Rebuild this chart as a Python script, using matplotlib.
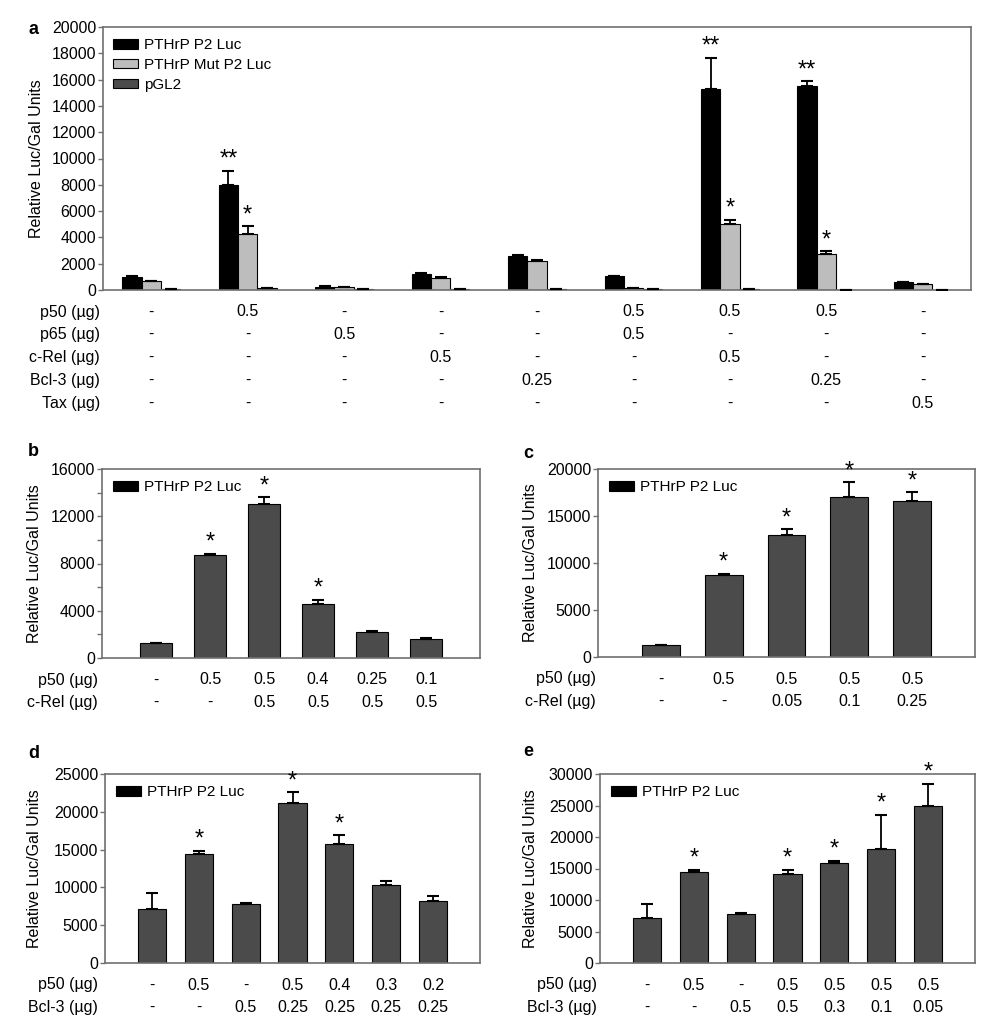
import numpy as np
import matplotlib
matplotlib.use('Agg')
from matplotlib import pyplot as plt
from matplotlib.patches import Patch
from matplotlib.transforms import blended_transform_factory

plt.rcParams['font.family'] = ['Liberation Sans', 'DejaVu Sans']
plt.rcParams['font.size'] = 11

W, H = 1005, 1028
YLABEL = 'Relative Luc/Gal Units'

# ---- panel a data ----
a_black = [1000, 8000, 250, 1250, 2550, 1050, 15300, 15500, 600]
a_black_err = [40, 1050, 20, 40, 80, 50, 2350, 380, 40]
a_gray = [650, 4250, 200, 900, 2200, 150, 5000, 2750, 450]
a_gray_err = [60, 600, 20, 60, 60, 10, 350, 200, 40]
a_dark = [50, 150, 100, 80, 100, 100, 60, 20, 20]
a_dark_err = [0, 0, 0, 0, 0, 0, 0, 0, 0]
a_black_stars = ['', '**', '', '', '', '', '**', '**', '']
a_gray_stars = ['', '*', '', '', '', '', '*', '*', '']
a_rows = ['p50 (µg)', 'p65 (µg)', 'c-Rel (µg)', 'Bcl-3 (µg)', 'Tax (µg)']
a_table = [
    ['-', '0.5', '-', '-', '-', '0.5', '0.5', '0.5', '-'],
    ['-', '-', '0.5', '-', '-', '0.5', '-', '-', '-'],
    ['-', '-', '-', '0.5', '-', '-', '0.5', '-', '-'],
    ['-', '-', '-', '-', '0.25', '-', '-', '0.25', '-'],
    ['-', '-', '-', '-', '-', '-', '-', '-', '0.5'],
]
a_legend = ['PTHrP P2 Luc', 'PTHrP Mut P2 Luc', 'pGL2']

# ---- panel b data ----
b_vals = [1250, 8700, 13000, 4600, 2200, 1600]
b_err = [60, 100, 600, 350, 100, 60]
b_stars = ['', '*', '*', '*', '', '']
b_rows = ['p50 (µg)', 'c-Rel (µg)']
b_table = [['-', '0.5', '0.5', '0.4', '0.25', '0.1'],
           ['-', '-', '0.5', '0.5', '0.5', '0.5']]

# ---- panel c data ----
c_vals = [1250, 8750, 13000, 17000, 16600]
c_err = [60, 100, 600, 1600, 900]
c_stars = ['', '*', '*', '*', '*']
c_rows = ['p50 (µg)', 'c-Rel (µg)']
c_table = [['-', '0.5', '0.5', '0.5', '0.5'],
           ['-', '-', '0.05', '0.1', '0.25']]

# ---- panel d data ----
d_vals = [7100, 14400, 7850, 21200, 15700, 10300, 8150]
d_err = [2200, 400, 100, 1400, 1200, 500, 750]
d_stars = ['', '*', '', '*', '*', '', '']
d_rows = ['p50 (µg)', 'Bcl-3 (µg)']
d_table = [['-', '0.5', '-', '0.5', '0.4', '0.3', '0.2'],
           ['-', '-', '0.5', '0.25', '0.25', '0.25', '0.25']]

# ---- panel e data ----
e_vals = [7100, 14400, 7850, 14050, 15900, 18100, 25000]
e_err = [2200, 400, 100, 700, 300, 5400, 3400]
e_stars = ['', '*', '', '*', '*', '*', '*']
e_rows = ['p50 (µg)', 'Bcl-3 (µg)']
e_table = [['-', '0.5', '-', '0.5', '0.5', '0.5', '0.5'],
           ['-', '-', '0.5', '0.5', '0.3', '0.1', '0.05']]

BLACK = '#000000'
GRAY = '#bdbdbd'
DARK = '#4b4b4b'
FS = 11.5

fig = plt.figure(figsize=(W / 100, H / 100), dpi=100)


def make_axes(left, top, right, bottom):
    return fig.add_axes([left / W, 1 - bottom / H, (right - left) / W, (bottom - top) / H])


def style_axes(ax, ymax, step, label_step, left, top, right, bottom, label_right):
    for s in ax.spines.values():
        s.set_color('#707070')
        s.set_linewidth(1.2)
    ax.set_ylim(0, ymax)
    ticks = np.arange(0, ymax + 1, step)
    ax.set_yticks(ticks)
    ax.set_yticklabels([str(int(t)) if t % label_step == 0 else '' for t in ticks])
    ax.tick_params(axis='y', length=3.5, width=1, color='#707070', pad=1.5, labelsize=FS)
    ax.set_xticks([])
    ax.set_ylabel(YLABEL, fontsize=FS)
    ax.yaxis.set_label_coords((label_right - left) / (right - left), 0.5)


def add_bars(ax, x, vals, errs, color, width):
    ax.bar(x, vals, width, color=color, edgecolor='black', linewidth=0.8, zorder=2)
    ax.errorbar(x, vals, yerr=[np.zeros(len(errs)), errs], fmt='none', ecolor='black',
                elinewidth=1.3, capsize=4, capthick=1.5, zorder=3)


def add_stars(ax, x, vals, errs, stars):
    for xi, v, e, s in zip(x, vals, errs, stars):
        if s:
            ax.annotate(s, (xi, v + e), xytext=(0, 8), textcoords='offset points',
                        ha='center', va='center', fontsize=17)


def add_table(ax, x, rows, table, bottom, label_right):
    tr = blended_transform_factory(ax.transData, fig.transFigure)
    for i, (name, cells) in enumerate(zip(rows, table)):
        y = 1 - (bottom + 22 + 22.8 * i) / H
        fig.text(label_right / W, y, name, ha='right', va='center', fontsize=FS)
        for xi, c in zip(x, cells):
            ax.text(xi, y, c, transform=tr, ha='center', va='center', fontsize=FS,
                    clip_on=False)


def add_legend(ax, labels, colors, shift_px):
    handles = [Patch(facecolor=c, edgecolor='black', linewidth=0.8) for c in colors]
    width = ax.get_position().width * W
    ax.legend(handles, labels, loc='upper left', frameon=False, fontsize=11,
              handlelength=1.6, handleheight=0.55, handletextpad=0.4,
              labelspacing=0.38, borderaxespad=0.35,
              bbox_to_anchor=(-shift_px / width, 1.0))


# ---- panel a ----
rect = (103, 27, 971, 290)
ax = make_axes(*rect)
style_axes(ax, 20000, 2000, 2000, *rect, 44)
xa = np.arange(len(a_black))
bw = 0.2
add_bars(ax, xa - bw, a_black, a_black_err, BLACK, bw)
add_bars(ax, xa, a_gray, a_gray_err, GRAY, bw)
add_bars(ax, xa + bw, a_dark, a_dark_err, DARK, bw)
add_stars(ax, xa - bw, a_black, a_black_err, a_black_stars)
add_stars(ax, xa, a_gray, a_gray_err, a_gray_stars)
ax.set_xlim(-0.5, 8.5)
add_legend(ax, a_legend, [BLACK, GRAY, DARK], 1)
add_table(ax, xa, a_rows, a_table, 290, 100)
fig.text(28 / W, 1 - 29 / H, 'a', fontsize=13, fontweight='bold', va='center')

# ---- panels b-e ----
panels = [
    ('b', (102, 469, 480, 658), 16000, 2000, 4000, b_vals, b_err, b_stars, b_rows, b_table, 98, 42, (28, 452)),
    ('c', (598, 469, 975, 657), 20000, 5000, 5000, c_vals, c_err, c_stars, c_rows, c_table, 596, 538, (523, 453)),
    ('d', (105, 774, 480, 963), 25000, 5000, 5000, d_vals, d_err, d_stars, d_rows, d_table, 98, 42, (28, 753)),
    ('e', (600, 774, 975, 963), 30000, 5000, 5000, e_vals, e_err, e_stars, e_rows, e_table, 597, 538, (523, 752)),
]

for letter, rect, ymax, step, lstep, vals, errs, stars, rows, table, lab_r, ylab_r, lpos in panels:
    ax = make_axes(*rect)
    style_axes(ax, ymax, step, lstep, *rect, ylab_r)
    x = np.arange(len(vals))
    add_bars(ax, x, vals, errs, DARK, 0.6)
    add_stars(ax, x, vals, errs, stars)
    ax.set_xlim(-1, len(vals))
    add_legend(ax, ['PTHrP P2 Luc'], [BLACK], 0)
    add_table(ax, x, rows, table, rect[3], lab_r)
    fig.text(lpos[0] / W, 1 - lpos[1] / H, letter, fontsize=13, fontweight='bold', va='center')

fig.savefig('out.png', dpi=100)
